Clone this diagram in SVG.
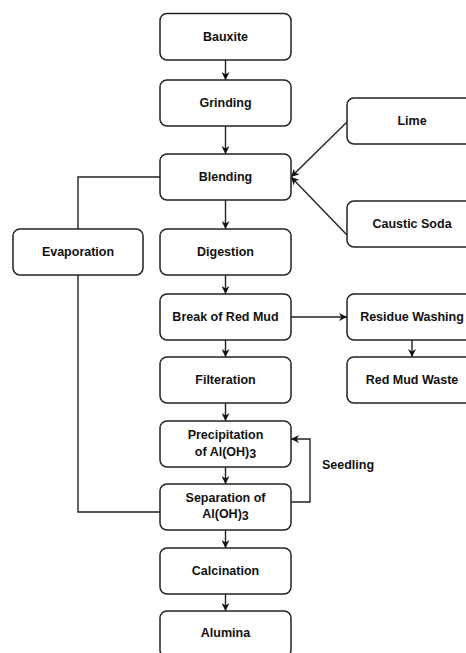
<svg xmlns="http://www.w3.org/2000/svg" width="466" height="653" viewBox="0 0 466 653">
<style>
.box{fill:#fff;stroke:#222;stroke-width:1.5}
.t{font-family:"Liberation Sans",Arial,sans-serif;font-size:12.5px;font-weight:bold;fill:#111;text-anchor:middle;dominant-baseline:central}
.e{fill:none;stroke:#222;stroke-width:1.4}
</style>
<defs>
<marker id="a" viewBox="0 0 10 10" refX="10" refY="5" markerWidth="8" markerHeight="8" markerUnits="userSpaceOnUse" orient="auto">
<path d="M0,0 L10,5 L0,10 L3,5 Z" fill="#111"/>
</marker>
</defs>
<rect width="466" height="653" fill="#fff"/>
<g id="connectors">
<path class="e" d="M225.5,60 V80" marker-end="url(#a)"/>
<path class="e" d="M225.5,126 V154" marker-end="url(#a)"/>
<path class="e" d="M225.5,200 V229" marker-end="url(#a)"/>
<path class="e" d="M225.5,275 V294" marker-end="url(#a)"/>
<path class="e" d="M225.5,340 V357" marker-end="url(#a)"/>
<path class="e" d="M225.5,403 V421" marker-end="url(#a)"/>
<path class="e" d="M225.5,467 V484" marker-end="url(#a)"/>
<path class="e" d="M225.5,530 V548" marker-end="url(#a)"/>
<path class="e" d="M225.5,594 V611" marker-end="url(#a)"/>
<path class="e" d="M412,340 V357" marker-end="url(#a)"/>
<path class="e" d="M291,317 H347" marker-end="url(#a)"/>
<path class="e" d="M347,122 L291,177" marker-end="url(#a)"/>
<path class="e" d="M347,235 L291,177" marker-end="url(#a)"/>
<path class="e" d="M160,177 H78 V229"/>
<path class="e" d="M78,275 V512 H160"/>
<path class="e" d="M291,502 H310 V439 H291" marker-end="url(#a)"/>
<text class="t" x="348" y="465">Seedling</text>
</g>
<g id="bauxite"><rect class="box" x="160" y="13.5" width="131" height="46.5" rx="7"/><text class="t" x="225.5" y="37">Bauxite</text></g>
<g id="grinding"><rect class="box" x="160" y="80" width="131" height="46" rx="7"/><text class="t" x="225.5" y="103">Grinding</text></g>
<g id="blending"><rect class="box" x="160" y="154" width="131" height="46" rx="7"/><text class="t" x="225.5" y="177">Blending</text></g>
<g id="lime"><rect class="box" x="347" y="98" width="130" height="46" rx="7"/><text class="t" x="412" y="121">Lime</text></g>
<g id="caustic"><rect class="box" x="347" y="201" width="130" height="46" rx="7"/><text class="t" x="412" y="224">Caustic Soda</text></g>
<g id="evaporation"><rect class="box" x="13" y="229" width="130" height="46" rx="7"/><text class="t" x="78" y="252">Evaporation</text></g>
<g id="digestion"><rect class="box" x="160" y="229" width="131" height="46" rx="7"/><text class="t" x="225.5" y="252">Digestion</text></g>
<g id="break"><rect class="box" x="160" y="294" width="131" height="46" rx="7"/><text class="t" x="225.5" y="317">Break of Red Mud</text></g>
<g id="residue"><rect class="box" x="347" y="294" width="130" height="46" rx="7"/><text class="t" x="412" y="317">Residue Washing</text></g>
<g id="filteration"><rect class="box" x="160" y="357" width="131" height="46" rx="7"/><text class="t" x="225.5" y="380">Filteration</text></g>
<g id="redmud"><rect class="box" x="347" y="357" width="130" height="46" rx="7"/><text class="t" x="412" y="380">Red Mud Waste</text></g>
<g id="precipitation"><rect class="box" x="160" y="421" width="131" height="46" rx="7"/><text class="t" x="225.5" y="435">Precipitation</text><text class="t" x="225.5" y="452">of Al(OH)<tspan dy="2">3</tspan></text></g>
<g id="separation"><rect class="box" x="160" y="484" width="131" height="46" rx="7"/><text class="t" x="225.5" y="498">Separation of</text><text class="t" x="225.5" y="514">Al(OH)<tspan dy="2">3</tspan></text></g>
<g id="calcination"><rect class="box" x="160" y="548" width="131" height="46" rx="7"/><text class="t" x="225.5" y="571">Calcination</text></g>
<g id="alumina"><rect class="box" x="160" y="611" width="131" height="46" rx="7"/><text class="t" x="225.5" y="633">Alumina</text></g>
</svg>
